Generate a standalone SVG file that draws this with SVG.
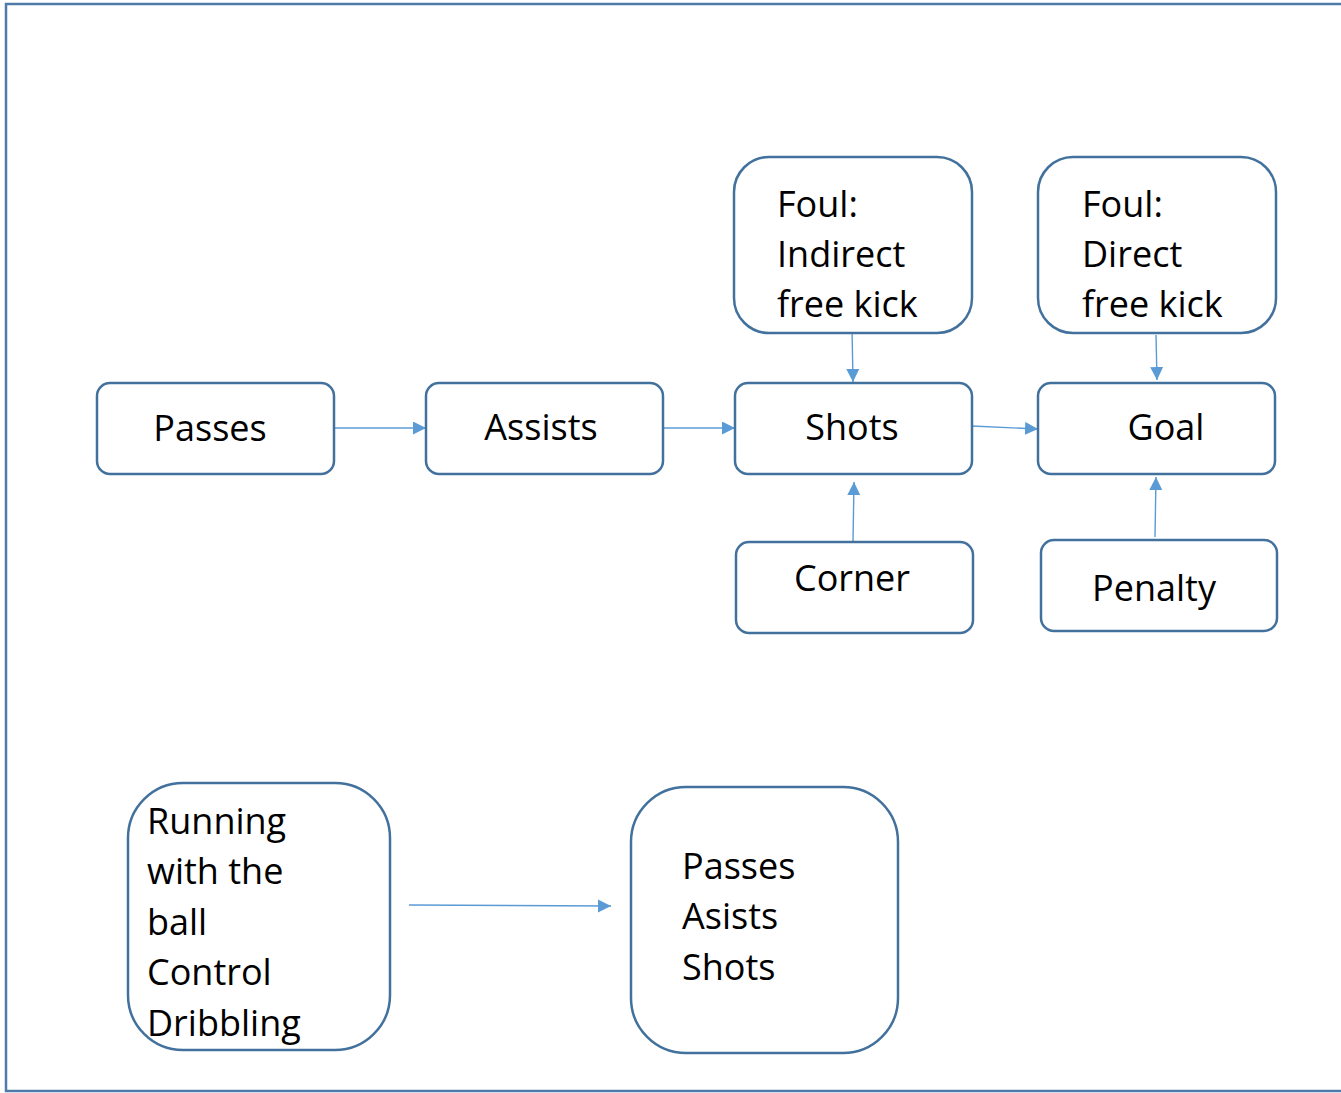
<svg xmlns="http://www.w3.org/2000/svg" width="1341" height="1093" viewBox="0 0 1341 1093">
<style>
.box{fill:#fff;stroke:#41719c;stroke-width:2.5}
.t{font-family:"Open Sans","Liberation Sans",sans-serif;font-size:36px;fill:#000}
.c{text-anchor:middle}
.ar{stroke:#5b9bd5;stroke-width:1.4;fill:none;marker-end:url(#ah)}
</style>
<defs>
<marker id="ah" markerUnits="userSpaceOnUse" markerWidth="14" markerHeight="14" refX="13" refY="6.5" orient="auto">
<path d="M0,0 L13,6.5 L0,13 Z" fill="#5b9bd5"/>
</marker>
</defs>
<rect x="6" y="4" width="1340" height="1087" fill="#fff" stroke="#4f7bab" stroke-width="2.5"/>
<g id="connectors">
<line class="ar" x1="334" y1="428" x2="426" y2="428"/>
<line class="ar" x1="663" y1="428" x2="735" y2="428"/>
<line class="ar" x1="972" y1="426" x2="1038" y2="429"/>
<line class="ar" x1="852" y1="328" x2="853" y2="382"/>
<line class="ar" x1="1156" y1="335" x2="1157" y2="380"/>
<line class="ar" x1="853" y1="542" x2="854" y2="482"/>
<line class="ar" x1="1155" y1="537" x2="1156" y2="477"/>
<line class="ar" x1="409" y1="905" x2="611" y2="906"/>
</g>
<g id="passes">
<rect class="box" x="97" y="383" width="237" height="91" rx="13"/>
<text class="t c" x="210" y="441">Passes</text>
</g>
<g id="assists">
<rect class="box" x="426" y="383" width="237" height="91" rx="13"/>
<text class="t c" x="541" y="440">Assists</text>
</g>
<g id="shots">
<rect class="box" x="735" y="383" width="237" height="91" rx="13"/>
<text class="t c" x="852" y="440">Shots</text>
</g>
<g id="goal">
<rect class="box" x="1038" y="383" width="237" height="91" rx="13"/>
<text class="t c" x="1166" y="440">Goal</text>
</g>
<g id="foul-indirect">
<rect class="box" x="734" y="157" width="238" height="176" rx="35"/>
<text class="t" x="777" y="217">Foul:</text>
<text class="t" x="777" y="267">Indirect</text>
<text class="t" x="777" y="317">free kick</text>
</g>
<g id="foul-direct">
<rect class="box" x="1038" y="157" width="238" height="176" rx="35"/>
<text class="t" x="1082" y="217">Foul:</text>
<text class="t" x="1082" y="267">Direct</text>
<text class="t" x="1082" y="317">free kick</text>
</g>
<g id="corner">
<rect class="box" x="736" y="542" width="237" height="91" rx="13"/>
<text class="t c" x="852" y="591">Corner</text>
</g>
<g id="penalty">
<rect class="box" x="1041" y="540" width="236" height="91" rx="13"/>
<text class="t c" x="1154" y="601">Penalty</text>
</g>
<g id="running">
<rect class="box" x="128" y="783" width="262" height="267" rx="55"/>
<text class="t" x="147" y="834">Running</text>
<text class="t" x="147" y="884">with the</text>
<text class="t" x="147" y="935">ball</text>
<text class="t" x="147" y="985">Control</text>
<text class="t" x="147" y="1036">Dribbling</text>
</g>
<g id="skills">
<rect class="box" x="631" y="787" width="267" height="266" rx="55"/>
<text class="t" x="682" y="879">Passes</text>
<text class="t" x="682" y="929">Asists</text>
<text class="t" x="682" y="980">Shots</text>
</g>
</svg>
